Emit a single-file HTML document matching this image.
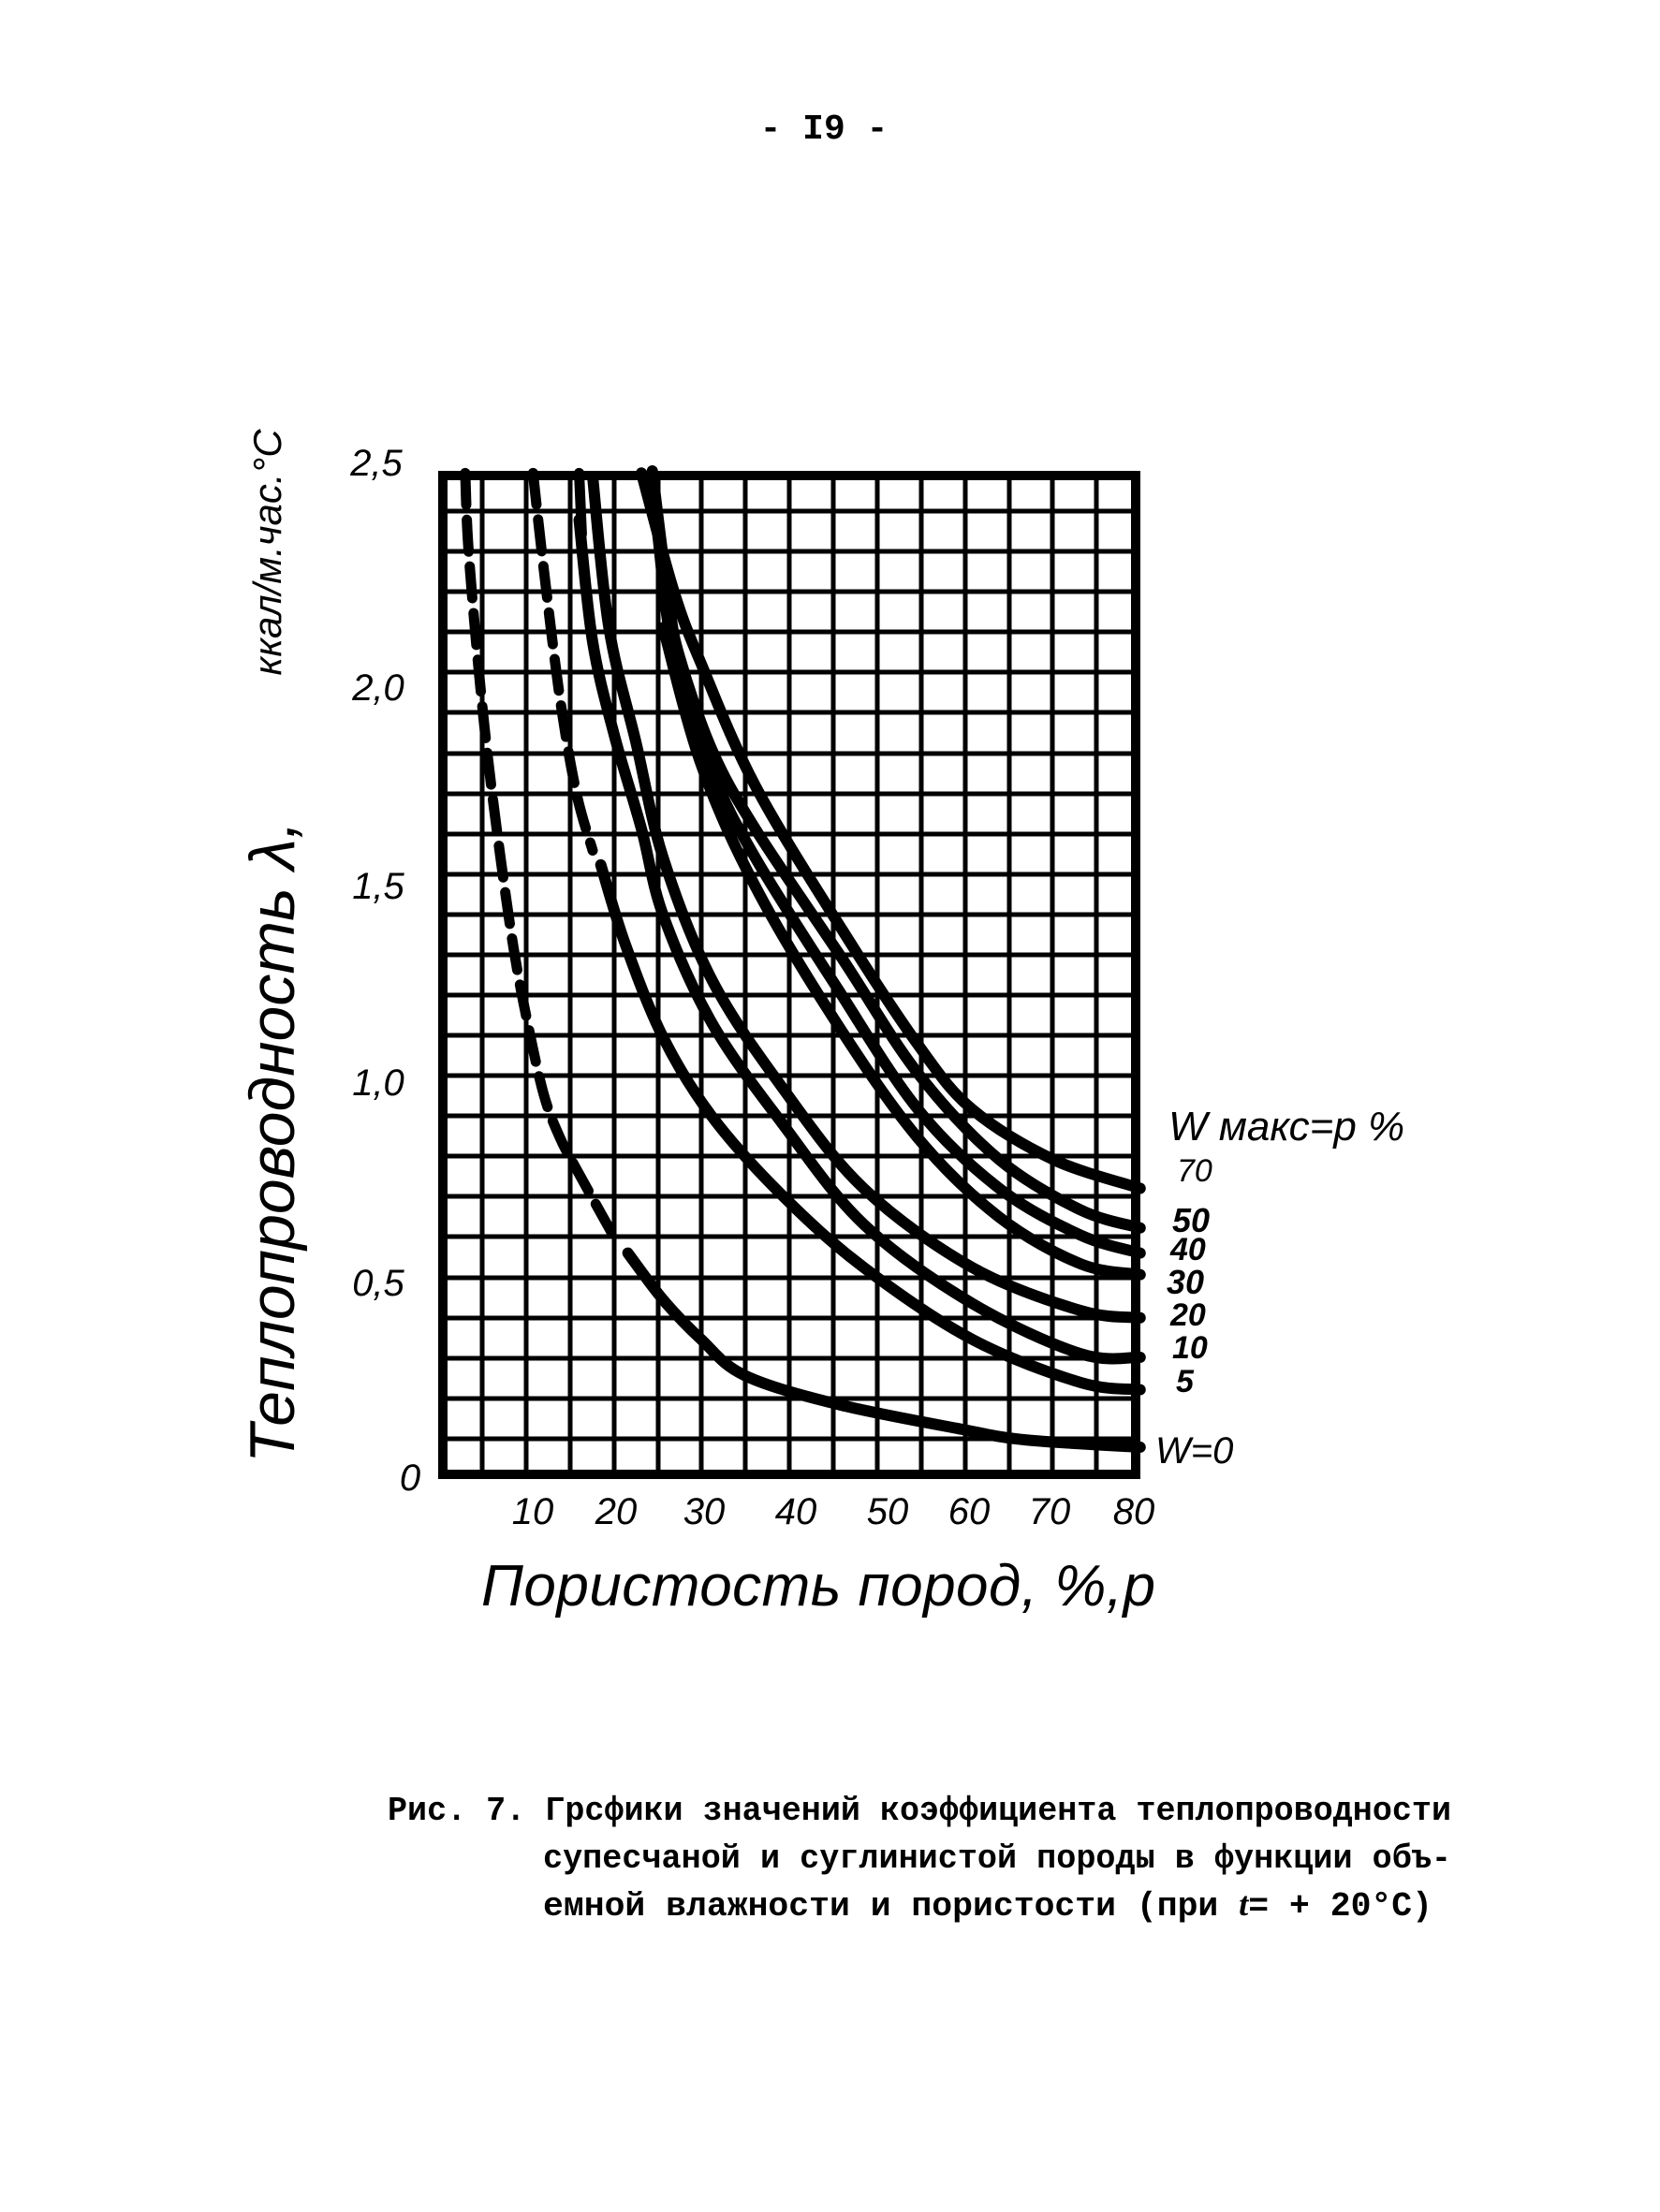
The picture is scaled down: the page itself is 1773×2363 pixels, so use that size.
<!DOCTYPE html>
<html><head><meta charset="utf-8"><style>
html,body{margin:0;padding:0;background:#fff;}
svg{display:block;}
</style></head><body>
<svg width="1773" height="2363" viewBox="0 0 1773 2363" xmlns="http://www.w3.org/2000/svg">
<rect width="1773" height="2363" fill="#fff"/>
<text x="880" y="148" font-family="Liberation Mono, monospace" font-size="38" font-weight="bold" text-anchor="middle">-  I9  -</text>

<!-- grid -->
<g stroke="#000" stroke-width="5" fill="none">
<path d="M515,503V1580M562,503V1580M609,503V1580M656,503V1580M703,503V1580M749,503V1580M796,503V1580M843,503V1580M890,503V1580M937,503V1580M984,503V1580M1031,503V1580M1078,503V1580M1124,503V1580M1171,503V1580"/>
<path d="M468,546H1218M468,589H1218M468,632H1218M468,675H1218M468,718H1218M468,761H1218M468,805H1218M468,848H1218M468,891H1218M468,934H1218M468,977H1218M468,1020H1218M468,1063H1218M468,1106H1218M468,1149H1218M468,1192H1218M468,1235H1218M468,1278H1218M468,1321H1218M468,1365H1218M468,1408H1218M468,1451H1218M468,1494H1218M468,1537H1218"/>
</g>
<rect x="473" y="508" width="740" height="1067" fill="none" stroke="#000" stroke-width="10"/>

<!-- curves -->
<g id="curves" transform="matrix(0.579 0 0 0.768 343.5 455.4)" fill="none" stroke="#000" stroke-linecap="round" stroke-linejoin="round">
<polyline vector-effect="non-scaling-stroke" stroke-width="12" points="590,65 650,230 700,330 800,500 960,700 1100,860 1200,950 1350,1020 1510,1060"/>
<polyline vector-effect="non-scaling-stroke" stroke-width="12" points="610,62 640,240 660,320 720,450 800,560 960,740 1100,900 1250,1020 1400,1090 1510,1115"/>
<polyline vector-effect="non-scaling-stroke" stroke-width="12" points="620,150 650,320 720,480 800,600 950,780 1100,950 1250,1060 1400,1125 1510,1150"/>
<polyline vector-effect="non-scaling-stroke" stroke-width="12" points="630,280 700,470 800,640 950,830 1100,990 1250,1100 1400,1165 1510,1180"/>
<polyline vector-effect="non-scaling-stroke" stroke-width="12" points="500,70 530,280 580,440 630,600 720,770 850,920 1000,1060 1200,1170 1400,1230 1510,1240"/>
<polyline vector-effect="non-scaling-stroke" stroke-width="12" points="475,130 500,300 540,430 590,560 630,680 720,830 850,970 1000,1110 1200,1220 1400,1290 1510,1295"/>
<polyline vector-effect="non-scaling-stroke" stroke-width="12" points="515,610 560,720 630,850 720,960 850,1070 1000,1170 1200,1270 1400,1330 1510,1340"/>
<polyline vector-effect="non-scaling-stroke" stroke-width="12" points="565,1150 630,1215 700,1270 780,1320 950,1360 1180,1395 1300,1410 1510,1420"/>
<polyline vector-effect="non-scaling-stroke" stroke-width="11" stroke-dasharray="34 16" points="390,65 410,200 440,380 470,510 500,590"/>
<polyline vector-effect="non-scaling-stroke" stroke-width="11" stroke-dasharray="34 16" points="265,65 270,160 285,300 305,450 330,600 355,730 380,830 410,930 440,990 475,1040 545,1135"/>
<polyline vector-effect="non-scaling-stroke" stroke-width="11" points="475,65 480,150"/>
</g>

<!-- y tick labels -->
<g font-family="Liberation Sans, sans-serif" font-style="italic" font-size="40" text-anchor="middle">
<text x="402" y="508">2,5</text>
<text x="404" y="748">2,0</text>
<text x="404" y="960">1,5</text>
<text x="404" y="1170">1,0</text>
<text x="404" y="1384">0,5</text>
<text x="438" y="1592">0</text>
</g>
<!-- x tick labels -->
<g font-family="Liberation Sans, sans-serif" font-style="italic" font-size="40" text-anchor="middle">
<text x="569" y="1628">10</text>
<text x="658" y="1628">20</text>
<text x="752" y="1628">30</text>
<text x="850" y="1628">40</text>
<text x="948" y="1628">50</text>
<text x="1035" y="1628">60</text>
<text x="1121" y="1628">70</text>
<text x="1211" y="1628">80</text>
</g>

<!-- axis titles -->
<text transform="translate(314,1220) rotate(-90)" font-family="Liberation Sans, sans-serif" font-style="italic" font-size="68" text-anchor="middle">Теплопроводность λ,</text>
<text transform="translate(300,590) rotate(-90)" font-family="Liberation Sans, sans-serif" font-style="italic" font-size="42" text-anchor="middle">ккал/м.час.°С</text>
<text x="874" y="1715" font-family="Liberation Sans, sans-serif" font-style="italic" font-size="62" text-anchor="middle" textLength="720">Пористость пород, %,p</text>

<!-- right labels -->
<g font-family="Liberation Sans, sans-serif" font-style="italic" font-size="38">
<text x="1248" y="1218" font-size="44">W макс=p %</text>
<text x="1257" y="1262" font-size="34">70</text>
<text x="1252" y="1316" font-size="36" font-weight="bold">50</text>
<text x="1250" y="1346" font-size="34" font-weight="bold">40</text>
<text x="1246" y="1382" font-size="36" font-weight="bold">30</text>
<text x="1250" y="1416" font-size="34" font-weight="bold">20</text>
<text x="1252" y="1451" font-size="34" font-weight="bold">10</text>
<text x="1256" y="1487" font-size="34" font-weight="bold">5</text>
<text x="1234" y="1563" font-size="40">W=0</text>
</g>

<!-- caption -->
<g font-family="Liberation Mono, monospace" font-weight="bold" font-size="36">
<text x="414" y="1944" textLength="1136" lengthAdjust="spacingAndGlyphs">Рис. 7. Грсфики значений коэффициента теплопроводности</text>
<text x="580" y="1995" textLength="970" lengthAdjust="spacingAndGlyphs">супесчаной и суглинистой породы в функции объ-</text>
<text x="580" y="2046" textLength="950" lengthAdjust="spacingAndGlyphs">емной влажности и пористости (при <tspan font-family="Liberation Serif, serif" font-style="italic">t</tspan>= + 20°С)</text>
</g>
</svg>
<script>
(function(){
var NS="http://www.w3.org/2000/svg";
var g=document.getElementById("curves");
var pls=Array.prototype.slice.call(g.getElementsByTagName("polyline"));
pls.forEach(function(pl){
  var nums=pl.getAttribute("points").trim().split(/[\s,]+/).map(Number);
  var p=[];for(var i=0;i<nums.length;i+=2)p.push([nums[i],nums[i+1]]);
  if(p.length<3)return;
  var d="M"+p[0][0]+","+p[0][1];
  for(var i=0;i<p.length-1;i++){
    var p0=p[i-1]||p[i],p1=p[i],p2=p[i+1],p3=p[i+2]||p2;
    var c1=[p1[0]+(p2[0]-p0[0])/6,p1[1]+(p2[1]-p0[1])/6];
    var c2=[p2[0]-(p3[0]-p1[0])/6,p2[1]-(p3[1]-p1[1])/6];
    d+=" C"+c1[0]+","+c1[1]+" "+c2[0]+","+c2[1]+" "+p2[0]+","+p2[1];
  }
  var path=document.createElementNS(NS,"path");
  path.setAttribute("d",d);
  ["stroke-width","stroke-dasharray","vector-effect"].forEach(function(a){var v=pl.getAttribute(a);if(v)path.setAttribute(a,v);});
  g.replaceChild(path,pl);
});
})();
</script>
</body></html>
